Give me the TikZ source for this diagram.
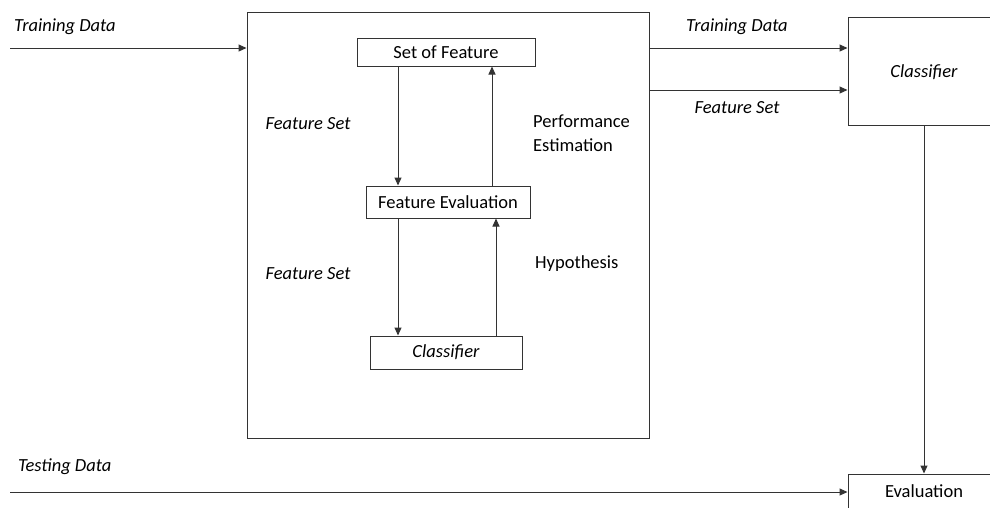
\documentclass[tikz,border=0pt]{standalone}
\usepackage{fontspec}
\setmainfont{Carlito}
\usetikzlibrary{arrows.meta,calc}
\newcommand{\figfont}{\fontsize{18.5}{24}\selectfont}
\tikzset{
  box/.style={draw=black!80, line width=1pt, inner sep=0pt},
  lbl/.style={inner sep=0pt, font=\figfont\itshape},
  arr/.style={draw=black!80, line width=1pt, -{Triangle[length=8pt,width=7pt]}}
}
\begin{document}
\begin{tikzpicture}[x=1pt, y=-1pt, font=\figfont]
    \clip (0,0) rectangle (990,507);
    % boxes
    \node[box, minimum width=402pt, minimum height=426pt] (sel) at (448,225) {};
    \node[box, minimum width=178pt, minimum height=28pt] (sof) at (446,52) {Set of Feature};
    \node[box, minimum width=164pt, minimum height=32pt] (fe) at (448,202) {Feature Evaluation};
    \node[box, minimum width=152pt, minimum height=33pt] (cli) at (446,352.5) {\itshape Classifier};
    \node[box, minimum width=152pt, minimum height=108pt] (clf) at (924,71) {};
    \node[lbl] at (924,72) {Classifier};
    \node[box, minimum width=152pt, minimum height=66pt] (eval) at (924,507) {};
    \node[inner sep=0pt] at (924,491) {Evaluation};

    % labels
    \node[lbl, anchor=west] (trl) at (14,27) {Training Data};
    \node[lbl] (fs1) at (308,124) {Feature Set};
    \node[lbl] (fs2) at (308,274) {Feature Set};
    \node[inner sep=0pt, anchor=west, align=left] (pe) at (533,133) {Performance\\Estimation};
    \node[inner sep=0pt, anchor=west] (hyp) at (535,264) {Hypothesis};
    \node[lbl] (trr) at (737,27) {Training Data};
    \node[lbl] (fsr) at (737,108) {Feature Set};
    \node[lbl, anchor=west] (tel) at (18,467) {Testing Data};

    % connectors
    \coordinate (dl) at (398,0);
    \coordinate (dr) at (492,0);
    \coordinate (ur) at (496,0);
    \coordinate (trin) at (10,48);
    \coordinate (tein) at (10,492);
    \coordinate (fsout) at (0,90);

    \draw[arr] (trin) -- (sel.west |- trin);
    \draw[arr] (sof.south -| dl) -- (fe.north -| dl);
    \draw[arr] (fe.north -| dr) -- (sof.south -| dr);
    \draw[arr] (fe.south -| dl) -- (cli.north -| dl);
    \draw[arr] (cli.north -| ur) -- (fe.south -| ur);
    \draw[arr] (sel.east |- trin) -- (clf.west |- trin);
    \draw[arr] (sel.east |- fsout) -- (clf.west |- fsout);
    \draw[arr] (clf.south) -- (eval.north);
    \draw[arr] (tein) -- (eval.west |- tein);
\end{tikzpicture}
\end{document}
